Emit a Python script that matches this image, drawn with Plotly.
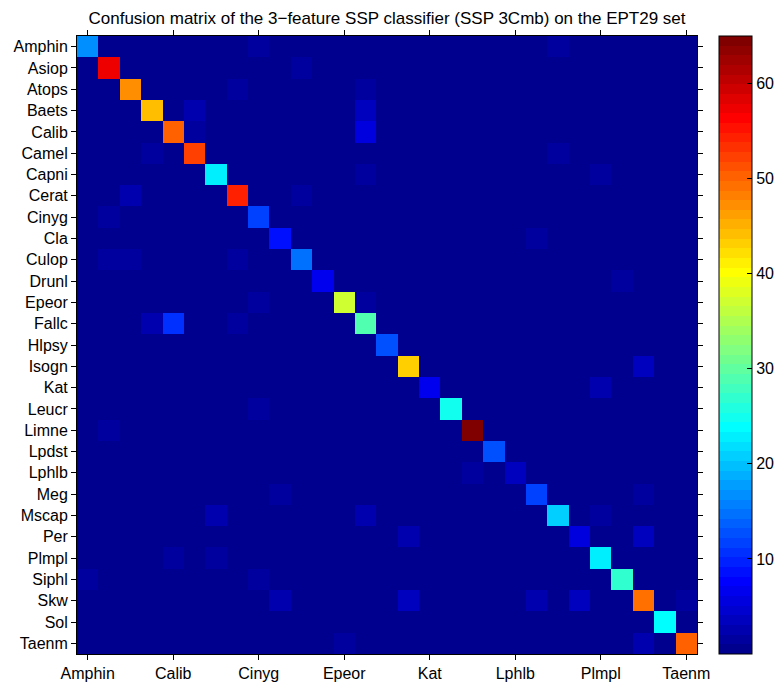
import plotly.graph_objects as go

labels = ["Amphin", "Asiop", "Atops", "Baets", "Calib", "Camel", "Capni", "Cerat",
          "Cinyg", "Cla", "Culop", "Drunl", "Epeor", "Fallc", "Hlpsy", "Isogn",
          "Kat", "Leucr", "Limne", "Lpdst", "Lphlb", "Meg", "Mscap", "Per",
          "Plmpl", "Siphl", "Skw", "Sol", "Taenm"]

diagonal = [17, 57, 47, 44, 50, 52, 23, 54, 12, 9, 15, 7, 37, 29, 13, 43,
            7, 25, 65, 13, 4, 12, 21, 6, 23, 27, 49, 24, 50]

# (true row, predicted column, count) for off-diagonal cells
off_diag = [
    (0, 8, 2), (0, 22, 2), (0, 24, 1), (0, 25, 1),
    (1, 10, 2),
    (2, 7, 2), (2, 13, 2), (2, 25, 1),
    (3, 5, 3), (3, 13, 4),
    (4, 3, 1), (4, 5, 2), (4, 12, 1), (4, 13, 6), (4, 19, 1), (4, 21, 1), (4, 22, 1), (4, 24, 1),
    (5, 3, 2), (5, 4, 1), (5, 7, 1), (5, 13, 1), (5, 22, 2),
    (6, 0, 1), (6, 13, 2), (6, 24, 2),
    (7, 2, 3), (7, 5, 1), (7, 10, 2), (7, 13, 1), (7, 14, 1),
    (8, 1, 2), (8, 24, 1), (8, 25, 1),
    (9, 21, 2),
    (10, 1, 2), (10, 2, 2), (10, 7, 2),
    (11, 1, 1), (11, 25, 2),
    (12, 3, 1), (12, 8, 2), (12, 13, 2),
    (13, 3, 3), (13, 4, 11), (13, 5, 1), (13, 7, 2), (13, 22, 1),
    (15, 26, 4),
    (16, 24, 3),
    (17, 1, 1), (17, 8, 2),
    (18, 1, 2), (18, 14, 1),
    (19, 4, 1),
    (20, 4, 1), (20, 5, 1), (20, 18, 2),
    (21, 9, 2), (21, 12, 1), (21, 15, 1), (21, 26, 2),
    (22, 6, 3), (22, 13, 3), (22, 24, 2),
    (23, 15, 3), (23, 26, 4),
    (24, 4, 2), (24, 6, 2), (24, 22, 1),
    (25, 0, 2), (25, 8, 2), (25, 18, 1),
    (26, 9, 3), (26, 15, 4), (26, 21, 3), (26, 23, 4), (26, 28, 2),
    (27, 25, 1),
    (28, 8, 1), (28, 12, 2), (28, 13, 1), (28, 26, 3),
]

colorbar_ticks = [10, 20, 30, 40, 50, 60]
x_tick_labels = ["Amphin", "Calib", "Cinyg", "Epeor", "Kat", "Lphlb", "Plmpl", "Taenm"]

n = len(labels)
z = [[0] * n for _ in range(n)]
for i, v in enumerate(diagonal):
    z[i][i] = v
for r, c, v in off_diag:
    z[r][c] = v


def jet(m=64):
    q = -(-m // 4)
    u = [k / q for k in range(1, q + 1)] + [1.0] * (q - 1) + [k / q for k in range(q, 0, -1)]
    g0 = -(-q // 2) - (1 if m % 4 == 1 else 0)
    J = [[0.0, 0.0, 0.0] for _ in range(m)]
    for k, val in enumerate(u):
        g = g0 + k + 1
        r = g + q
        b = g - q
        if 1 <= r <= m:
            J[r - 1][0] = val
        if 1 <= g <= m:
            J[g - 1][1] = val
        if 1 <= b <= m:
            J[b - 1][2] = val
    return J


cmap = jet(64)
colorscale = []
for i, (r, g, b) in enumerate(cmap):
    col = f"rgb({round(r*255)},{round(g*255)},{round(b*255)})"
    colorscale.append([i / 64, col])
    colorscale.append([(i + 1) / 64, col])

font = "Liberation Sans, Arial, Helvetica, sans-serif"
W, H = 778, 687
L, R, T, B = 77, 697, 36, 654
CB = 719

fig = go.Figure(go.Heatmap(
    z=z, x=labels, y=labels,
    zmin=0, zmax=65,
    colorscale=colorscale,
    colorbar=dict(
        x=(CB - L) / (R - L), xanchor="left", xref="paper",
        y=0.5, yanchor="middle", len=1, lenmode="fraction",
        thickness=33, thicknessmode="pixels", xpad=0, ypad=0,
        outlinecolor="black", outlinewidth=1,
        tickvals=colorbar_ticks, ticks="inside", ticklen=5,
        tickcolor="black", tickfont=dict(family=font, size=16, color="black"),
    ),
))

# left-side ticks of the colorbar (MATLAB draws ticks on both edges)
shapes = []
for t in colorbar_ticks:
    shapes.append(dict(type="line", xref="paper", yref="paper",
                       x0=(CB - L) / (R - L), x1=(CB + 5 - L) / (R - L),
                       y0=t / 65, y1=t / 65, line=dict(color="black", width=1)))

fig.update_layout(
    width=W, height=H,
    margin=dict(l=L, r=W - R, t=T, b=H - B, autoexpand=False),
    paper_bgcolor="white", plot_bgcolor="white",
    shapes=shapes,
    title=dict(
        text="Confusion matrix of the 3\u2212feature SSP classifier (SSP 3Cmb) on the EPT29 set",
        x=(L + R) / 2 / W, xanchor="center", xref="container",
        y=1 - 18 / H, yanchor="middle", yref="container",
        font=dict(family=font, size=17, color="black"),
    ),
    font=dict(family=font, color="black"),
)

fig.update_xaxes(
    type="category", automargin=False,
    tickmode="array", tickvals=x_tick_labels, ticktext=x_tick_labels,
    ticks="outside", ticklen=5, tickcolor="black",
    showline=True, linecolor="black", linewidth=1, mirror="ticks",
    tickfont=dict(family=font, size=16, color="black"),
    showgrid=False, zeroline=False,
)
fig.update_yaxes(
    type="category", autorange="reversed", automargin=False,
    tickmode="array", tickvals=labels, ticktext=labels,
    ticks="outside", ticklen=5, tickcolor="black",
    showline=True, linecolor="black", linewidth=1, mirror="ticks",
    tickfont=dict(family=font, size=16, color="black"),
    showgrid=False, zeroline=False,
)

fig.write_html(
    "out.html",
    config={"displayModeBar": False},
    post_script="document.body.style.margin='0';document.body.style.overflow='hidden';",
)
